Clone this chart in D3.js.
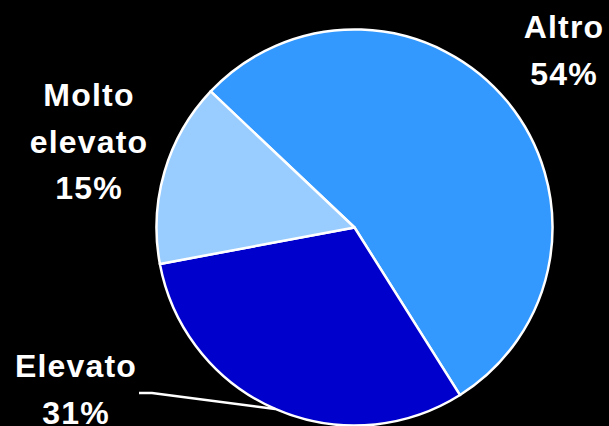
<!DOCTYPE html>
<html>
<head>
<meta charset="utf-8">
<style>
  html, body { margin: 0; padding: 0; background: #000; }
  svg { display: block; }
  text { font-family: "Liberation Sans", Arial, sans-serif; font-weight: bold; fill: #fff; }
</style>
</head>
<body>
<svg width="609" height="426"></svg>
<script src="https://d3js.org/d3.v7.min.js"></script>
<script>

    var categories = ["Altro", "Elevato", "Molto elevato"];
    var values = [54, 31, 15];
    var colors = ["#3399ff", "#0000cc", "#99ccff"];
    // label lines, one entry per category
    var labelLines = [["Altro", "54%"], ["Elevato", "31%"], ["Molto", "elevato", "15%"]];

    var svg = d3.select("svg"),
        cx = 354.5,
        cy = 227.5,
        radius = 198;

    var g = svg.append("g").attr("transform", "translate(" + cx + "," + cy + ")");

    var pie = d3.pie()
        .sort(null)
        .startAngle(-46.6 * Math.PI / 180)
        .endAngle((360 - 46.6) * Math.PI / 180);

    var arc = d3.arc().innerRadius(0).outerRadius(radius);
    var edge = d3.arc().innerRadius(radius).outerRadius(radius);

    var arcs = pie(values);

    g.selectAll("path.slice")
        .data(arcs)
        .enter().append("path")
        .attr("class", "slice")
        .attr("d", arc)
        .attr("fill", function(d, i) { return colors[i]; })
        .attr("stroke", "#fff")
        .attr("stroke-width", 2.5)
        .attr("stroke-linejoin", "round");

    // leader line for Elevato
    var p = edge.centroid(arcs[1]);
    svg.append("polyline")
        .attr("points", [[139, 393], [152, 393], [cx + p[0], cy + p[1]]].map(function(q) { return q.join(","); }).join(" "))
        .attr("fill", "none")
        .attr("stroke", "#fff")
        .attr("stroke-width", 2.5);

    // label anchors (center x, first baseline y)
    var labelPos = [[564, 38], [76, 377], [89, 106]];
    var lineStep = 46.5;

    categories.forEach(function(c, i) {
        var t = svg.append("text")
            .attr("text-anchor", "middle")
            .attr("font-size", 32)
            .attr("letter-spacing", 1.2);
        labelLines[i].forEach(function(s, j) {
            t.append("tspan")
                .attr("x", labelPos[i][0])
                .attr("y", labelPos[i][1] + j * lineStep)
                .text(s);
        });
    });

</script>
</body>
</html>
